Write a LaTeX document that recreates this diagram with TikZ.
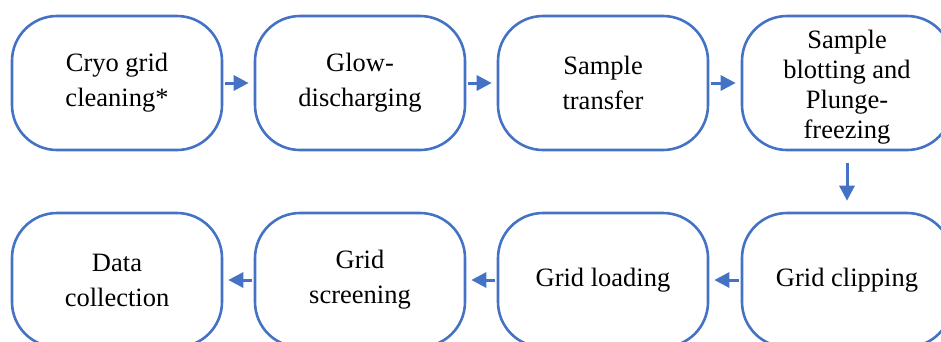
\documentclass[tikz,border=0pt]{standalone}
\usepackage{fontspec}
\setmainfont{Liberation Serif}
\usetikzlibrary{arrows.meta}
\definecolor{flowblue}{HTML}{4472C4}
\begin{document}
\begin{tikzpicture}[x=1pt,y=-1pt,
  stepbox/.style={draw=flowblue, line width=2.6pt, rounded corners=45pt,
    minimum width=210pt, minimum height=134pt, align=center,
    inner sep=0pt, fill=white, font=\fontsize{26.5}{35}\selectfont},
  tallbox/.style={stepbox, font=\fontsize{26.5}{30}\selectfont},
  flow/.style={draw=flowblue, line width=3pt,
    -{Triangle[length=15pt,width=15pt]}}]
\useasboundingbox (0,0) rectangle (941,341);
\clip (0,0) rectangle (941,341);
% top row
\node[stepbox] (clean) at (117,83) {Cryo grid\\cleaning*};
\node[stepbox] (glow) at (360,83) {Glow-\\discharging};
\node[stepbox] (transfer) at (603,83) {Sample\\transfer};
\node[tallbox] (plunge) at (847,83) {\rule{0pt}{27pt}Sample\\blotting and\\Plunge-\\freezing};
% bottom row
\node[stepbox] (clip) at (847,280) {Grid clipping};
\node[stepbox] (load) at (603,280) {Grid loading};
\node[stepbox] (screen) at (360,280) {Grid\\screening};
\node[stepbox] (data) at (117,280) {Data\\collection};
% connectors
\draw[flow, shorten <=2pt, shorten >=5pt] (clean) -- (glow);
\draw[flow, shorten <=2pt, shorten >=5pt] (glow) -- (transfer);
\draw[flow, shorten <=2pt, shorten >=5pt] (transfer) -- (plunge);
\draw[flow, shorten <=12pt, shorten >=11pt] (plunge) -- (clip);
\draw[flow, shorten <=2pt, shorten >=5pt] (clip) -- (load);
\draw[flow, shorten <=2pt, shorten >=5pt] (load) -- (screen);
\draw[flow, shorten <=2pt, shorten >=5pt] (screen) -- (data);
\end{tikzpicture}
\end{document}
